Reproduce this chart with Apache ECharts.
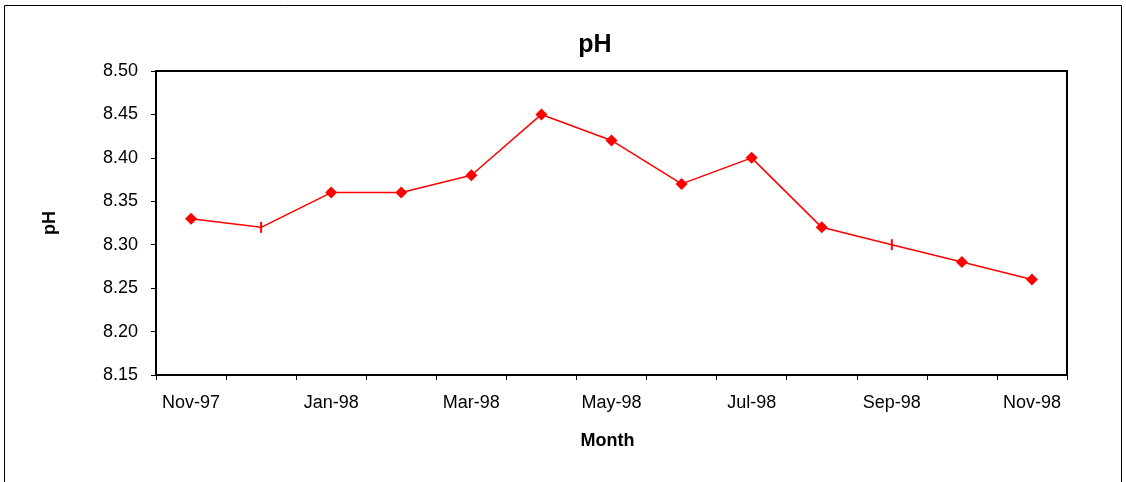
<!DOCTYPE html>
<html>
<head>
<meta charset="utf-8">
<script src="https://cdn.jsdelivr.net/npm/echarts@6/dist/echarts.min.js"></script>
<style>
html,body{margin:0;padding:0;background:#fff;}
#c{width:1126px;height:482px;}
</style>
</head>
<body>
<div id="c"></div>
<script>
var months = ["Nov-97","Dec-97","Jan-98","Feb-98","Mar-98","Apr-98","May-98","Jun-98","Jul-98","Aug-98","Sep-98","Oct-98","Nov-98"];
var phValues = [8.33, 8.32, 8.36, 8.36, 8.38, 8.45, 8.42, 8.37, 8.40, 8.32, 8.30, 8.28, 8.26];
var tickMarkerMonths = ["Dec-97","Sep-98"];

var chart = echarts.init(document.getElementById('c'), null, {renderer:'canvas'});
var font = 'Liberation Sans, Arial, sans-serif';
var seriesData = phValues.map(function(v, i){
  var d = {value: v};
  if (tickMarkerMonths.indexOf(months[i]) >= 0) {
    d.symbol = 'rect';
    d.symbolSize = [2, 11];
  }
  return d;
});
chart.setOption({
  animation:false,
  backgroundColor:'#fff',
  graphic:[{type:'rect', shape:{x:4.5,y:5.5,width:1117,height:490}, style:{fill:'none',stroke:'#000',lineWidth:1}, z:-1}],
  title:{text:'pH', left:590, top:28, textAlign:'center', textStyle:{fontFamily:font,fontSize:25,fontWeight:'bold',color:'#000'}},
  grid:{left:156, top:71, right:59, bottom:107, show:true, borderColor:'#000', borderWidth:2, backgroundColor:'#fff'},
  xAxis:{
    type:'category', data:months, boundaryGap:true,
    name:'Month', nameLocation:'middle', nameGap:57,
    nameTextStyle:{fontFamily:font,fontSize:18,fontWeight:'bold',color:'#000',padding:[0,8,0,0]},
    axisLine:{lineStyle:{color:'#000',width:2}},
    axisTick:{show:true, interval:0, length:5, lineStyle:{color:'#000'}},
    axisLabel:{interval:1, margin:19, fontFamily:font, fontSize:18, color:'#000'},
    splitLine:{show:false}
  },
  yAxis:{
    type:'value', min:8.15, max:8.50, interval:0.05,
    name:'pH', nameLocation:'middle', nameGap:97, nameRotate:90,
    nameTextStyle:{fontFamily:font,fontSize:18,fontWeight:'bold',color:'#000'},
    axisLine:{show:true, lineStyle:{color:'#000',width:2}},
    axisTick:{show:true, length:5, lineStyle:{color:'#000'}},
    axisLabel:{margin:18, fontFamily:font, fontSize:18, color:'#000', formatter:function(v){return v.toFixed(2);}},
    splitLine:{show:false}
  },
  series:[{
    type:'line', data:seriesData, symbol:'diamond', symbolSize:12,
    lineStyle:{color:'#ff0000', width:1.5},
    itemStyle:{color:'#ff0000'}
  }]
});
</script>
</body>
</html>
